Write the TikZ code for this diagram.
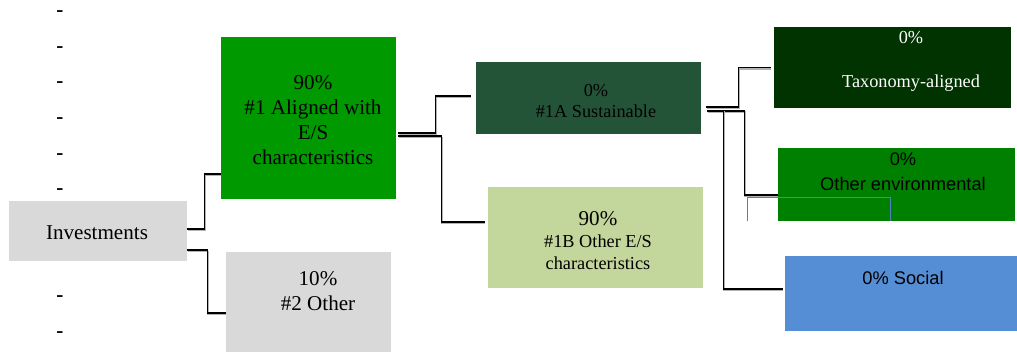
\documentclass[tikz,border=0pt]{standalone}
\usepackage{fontspec}
\setmainfont{Liberation Serif}
\newfontfamily\arialfont{Liberation Sans}
\usetikzlibrary{positioning}
\definecolor{boxgrey}{HTML}{D9D9D9}
\definecolor{alignfill}{HTML}{009900}
\definecolor{sustfill}{HTML}{245438}
\definecolor{esfill}{HTML}{C3D69B}
\definecolor{taxofill}{HTML}{003300}
\definecolor{envfill}{HTML}{008000}
\definecolor{socialfill}{HTML}{558ED5}
\definecolor{rulebl}{HTML}{4F81BD}

\begin{document}
\begin{tikzpicture}[x=0.025cm, y=-0.025cm,
  box/.style={rectangle, inner sep=0pt},
  lbl/.style={align=center, inner sep=0pt, font=\fontsize{15}{17.7}\selectfont},
  small/.style={lbl, font=\fontsize{13}{15}\selectfont},
  link/.style={line width=1.1pt, preaction={draw=black!30, line width=1.1pt, transform canvas={shift={(0.4pt,-0.9pt)}}}},
  dashmark/.style={inner sep=0pt, font=\bfseries\fontsize{15}{15}\selectfont}]
\useasboundingbox (0,0) rectangle (1017,356);

% left column of dashes
\foreach \i/\y in {1/14,2/50,3/85,4/121,5/157,6/192,7/299,8/335}
  \node[dashmark] (dash\i) at (60,\y) {-};

% boxes
\node[box, fill=boxgrey, minimum width=4.45cm, minimum height=1.5cm] (invest) at (98,231) {};
\node[lbl] (invest-t) at (97,233) {Investments};

\node[box, fill=alignfill, minimum width=4.375cm, minimum height=4.05cm] (aligned) at (308.5,118) {};
\node[lbl] (aligned-t) at (313,120) {90\%\\\#1 Aligned with\\E/S\\characteristics};

\node[box, fill=boxgrey, minimum width=4.125cm, minimum height=2.5cm] (other) at (308.5,302) {};
\node[lbl] (other-t) at (318,291) {10\%\\\#2 Other};

\node[box, fill=sustfill, minimum width=5.625cm, minimum height=1.8cm] (sust) at (588.5,98) {};
\node[small, font=\fontsize{13}{14.9}\selectfont] (sust-t) at (596,101) {0\%\\\#1A Sustainable};

\node[box, fill=esfill, minimum width=5.375cm, minimum height=2.525cm] (otheres) at (595.5,237.5) {};
\node[small, font=\fontsize{13}{15.6}\selectfont] (otheres-t) at (598,241) {{\fontsize{15}{15.6}\selectfont 90\%}\\\#1B Other E/S\\characteristics};

\node[box, fill=taxofill, minimum width=5.925cm, minimum height=2.025cm] (taxo) at (892.5,67.5) {};
\node[small, text=white, font=\fontsize{13}{15.6}\selectfont] (taxo-t) at (911,61) {0\%\\[15.6pt]Taxonomy-aligned};

\node[box, fill=envfill, minimum width=5.925cm, minimum height=1.825cm] (env) at (896.5,184.5) {};
\node[small, font=\arialfont\fontsize{13}{17.7}\selectfont] (env-t) at (903,172) {0\%\\Other environmental};

\node[box, fill=socialfill, minimum width=5.8cm, minimum height=1.875cm] (social) at (901,293.5) {};
\node[small, font=\arialfont\fontsize{13}{15}\selectfont] (social-t) at (903,278) {0\% Social};

% connectors
\draw[link] ([yshift=0.05cm]invest.east) -- ++(17,0) |- ([yshift=-1.4cm]aligned.west);
\draw[link] ([yshift=-0.475cm]invest.east) -- ++(20,0) |- ([yshift=-0.275cm]other.west);
\draw[link] ([xshift=0.05cm,yshift=-0.375cm]aligned.east) -- ++(37,0) |- ([xshift=-0.125cm,yshift=0.05cm]sust.west);
\draw[link] ([xshift=0.05cm,yshift=-0.45cm]aligned.east) -- ++(43,0) |- ([xshift=-0.075cm,yshift=0.39cm]otheres.west);
\draw[link] ([xshift=0.125cm,yshift=-0.225cm]sust.east) -- ++(32,0) |- ([xshift=-0.075cm]taxo.west);
\draw[link] ([xshift=0.15cm,yshift=-0.325cm]sust.east) -- ++(37,0) |- ([yshift=-0.2625cm]env.west);
\draw[link] ([xshift=0.15cm,yshift=-0.325cm]sust.east) -- ++(16,0) |- ([xshift=-0.05cm,yshift=0.1125cm]social.west);

% thin blue rule over the environmental box
\draw[rulebl, line width=0.6pt] ([xshift=-0.75cm]env.south west) -- ++(0,-24) -- ++(143,0) -- ++(0,24);
\end{tikzpicture}
\end{document}
